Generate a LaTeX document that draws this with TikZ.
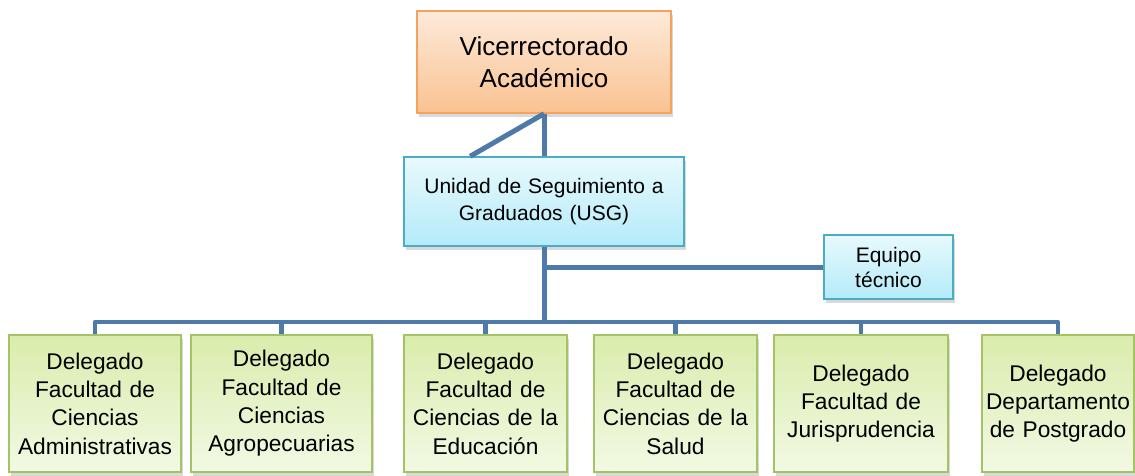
\documentclass[tikz,border=0pt]{standalone}
\usepackage{fontspec}
\setmainfont{Liberation Sans}
\usepackage{tikz}
\usetikzlibrary{calc,shadows}
\definecolor{linkblue}{HTML}{4D7AA8}
\definecolor{vrdraw}{HTML}{F5A35C}
\definecolor{usgdraw}{HTML}{4BACC6}
\definecolor{deldraw}{HTML}{A3C365}
\tikzset{box/.style={rectangle, line width=1.5pt, inner sep=2pt, align=center, drop shadow={opacity=0.3, shadow xshift=2pt, shadow yshift=-4pt}},
	vrbox/.style={box, draw=vrdraw, top color={rgb,255:red,253;green,234;blue,218}, bottom color={rgb,255:red,250;green,194;blue,145}, font=\fontsize{26}{31.7}\selectfont},
	usgbox/.style={box, draw=usgdraw, top color={rgb,255:red,232;green,249;blue,253}, bottom color={rgb,255:red,180;green,235;blue,249}},
	delbox/.style={box, draw=deldraw, top color={rgb,255:red,218;green,236;blue,172}, bottom color={rgb,255:red,242;green,249;blue,228}, minimum height=137pt, font=\fontsize{22.7}{28.3}\selectfont},
	link/.style={draw=linkblue, line width=5pt}}

\begin{document}
\begin{tikzpicture}[x=1pt,y=-1pt]
		\useasboundingbox (0,0) rectangle (1135,475);
		% boxes
		\node[vrbox, minimum width=254pt, minimum height=102pt, text width=250pt] (vr) at (544,62) {Vicerrectorado\\Académico};
		\node[usgbox, minimum width=280pt, minimum height=89pt, text width=276pt, font=\fontsize{21}{27}\selectfont] (usg) at (544,201.5) {Unidad de Seguimiento a\\Graduados (USG)};
		\node[usgbox, minimum width=129pt, minimum height=64pt, text width=125pt, font=\fontsize{21}{25}\selectfont] (eq) at (888.5,267) {Equipo\\técnico};
		\node[delbox, minimum width=172pt, text width=168pt] (d1) at (95,403.5) {Delegado\\Facultad de\\Ciencias\\Administrativas};
		\node[delbox, minimum width=181pt, text width=177pt] (d2) at (281.5,403.5) {Delegado\\Facultad de\\Ciencias\\Agropecuarias};
		\node[delbox, minimum width=163pt, text width=159pt] (d3) at (485.5,403.5) {Delegado\\Facultad de\\Ciencias de la\\Educación};
		\node[delbox, minimum width=163pt, text width=159pt] (d4) at (675.5,403.5) {Delegado\\Facultad de\\Ciencias de la\\Salud};
		\node[delbox, minimum width=174pt, text width=170pt] (d5) at (861,403.5) {Delegado\\Facultad de\\Jurisprudencia};
		\node[delbox, minimum width=150pt, text width=148pt] (d6) at (1058,403.5) {Delegado\\Departamento\\de Postgrado};
		\coordinate (bus) at (544,322);
		\coordinate (usgnw) at ($(usg.north west)+(67,0)$);
		% connectors
		\draw[link] (vr.south) -- (usg.north);
		\draw[link] (vr.south) -- (usgnw);
		\draw[link] (usg.south) -- (bus);
		\draw[link] (bus |- eq.west) -- (eq.west);
		\draw[link, line width=4.5pt, line join=round] (d1.north) -- (bus -| d1.north) -- (bus -| d6.north) -- (d6.north);
		\foreach \d in {d2,d3,d4,d5}
			\draw[link, line width=4.5pt] (bus -| \d.north) -- (\d.north);
\end{tikzpicture}
\end{document}
